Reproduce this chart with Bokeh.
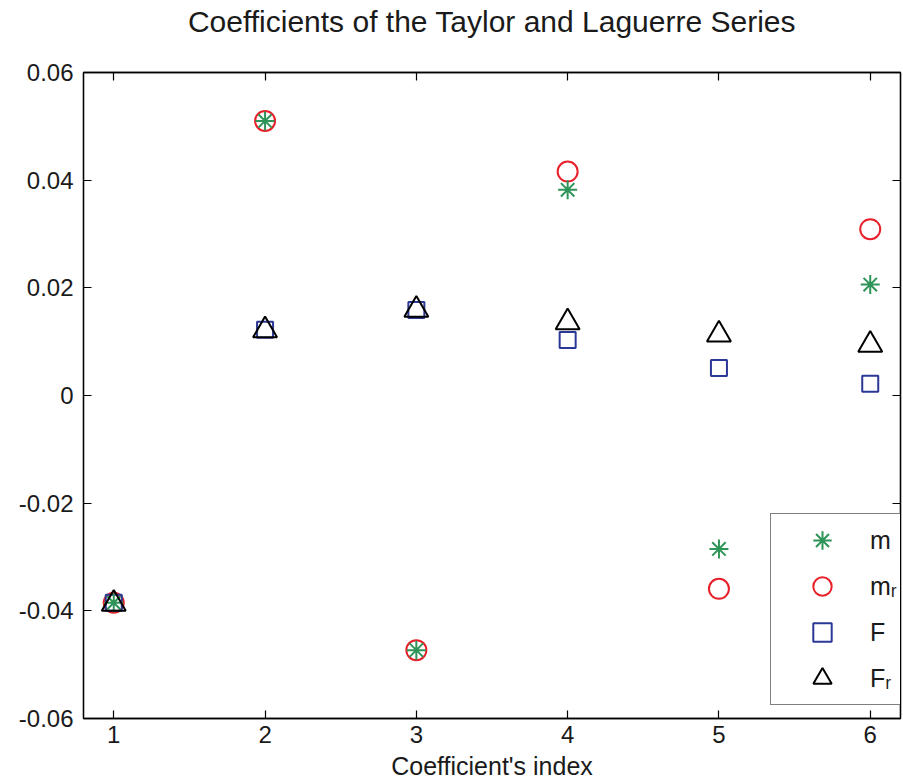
from bokeh.plotting import figure
from bokeh.models import Range1d, FixedTicker, LinearAxis, Legend, LegendItem
from bokeh.embed import file_html
from bokeh.resources import INLINE

# ---- data ----
index = [1, 2, 3, 4, 5, 6]
m_vals = [-0.0385, 0.0510, -0.0473, 0.0382, -0.0285, 0.0206]
mr_vals = [-0.0385, 0.0510, -0.0473, 0.0416, -0.0359, 0.0309]
F_vals = [-0.0385, 0.0122, 0.0159, 0.0103, 0.0051, 0.0022]
Fr_vals = [-0.0387, 0.0121, 0.0159, 0.0136, 0.0113, 0.0094]

x_ticks = [1, 2, 3, 4, 5, 6]
x_tick_labels = ["1", "2", "3", "4", "5", "6"]
y_ticks = [-0.06, -0.04, -0.02, 0, 0.02, 0.04, 0.06]
y_tick_labels = ["-0.06", "-0.04", "-0.02", "0", "0.02", "0.04", "0.06"]

legend_labels = ["m", "m\u1d63", "F", "F\u1d63"]
title_text = "Coefficients of the Taylor and Laguerre Series"
x_label = "Coefficient's index"

FONT = "Liberation Sans"
TXT = "#1a1a1a"

p = figure(
    width=903, height=782,
    x_range=Range1d(0.8, 6.2), y_range=Range1d(-0.06, 0.06),
    output_backend="svg", toolbar_location=None,
    min_border_left=83, min_border_right=3, min_border_top=72, min_border_bottom=10,
)
p.background_fill_color = "white"
p.border_fill_color = "white"
p.outline_line_color = "black"
p.outline_line_width = 1.3
p.grid.visible = False

xt = FixedTicker(ticks=x_ticks)
yt = FixedTicker(ticks=y_ticks)
x_over = dict(zip(x_ticks, x_tick_labels))
y_over = dict(zip(y_ticks, y_tick_labels))

for ax in p.xaxis:
    ax.ticker = xt
    ax.major_label_overrides = x_over
    ax.axis_label = x_label
    ax.axis_label_text_font = FONT
    ax.axis_label_text_font_size = "25px"
    ax.axis_label_text_font_style = "normal"
    ax.axis_label_text_color = TXT
    ax.axis_label_standoff = 6
    ax.major_label_standoff = 7
for ax in p.yaxis:
    ax.ticker = yt
    ax.major_label_overrides = y_over
    ax.major_label_standoff = 10

for ax in list(p.xaxis) + list(p.yaxis):
    ax.major_label_text_font = FONT
    ax.major_label_text_font_size = "24px"
    ax.major_label_text_color = TXT
    ax.axis_line_color = "black"
    ax.axis_line_width = 1.3
    ax.major_tick_line_color = "black"
    ax.major_tick_line_width = 1.2
    ax.major_tick_in = 8
    ax.major_tick_out = 0
    ax.minor_tick_line_color = None

# box-style ticks on top and right; the top axis carries the chart title
top_ax = LinearAxis(ticker=FixedTicker(ticks=x_ticks), major_label_text_font_size="1px",
                    major_label_text_color=None, major_label_standoff=0,
                    major_tick_in=8, major_tick_out=0,
                    minor_tick_line_color=None, axis_line_color="black",
                    axis_line_width=1.3, major_tick_line_width=1.2,
                    axis_label=title_text, axis_label_text_font=FONT,
                    axis_label_text_font_size="30px", axis_label_text_font_style="normal",
                    axis_label_text_color=TXT, axis_label_standoff=35)
right_ax = LinearAxis(ticker=FixedTicker(ticks=y_ticks), major_label_text_font_size="1px",
                      major_label_text_color=None, major_label_standoff=0,
                      major_tick_in=8, major_tick_out=0,
                      minor_tick_line_color=None, axis_line_color="black",
                      axis_line_width=1.3, major_tick_line_width=1.2)
p.add_layout(top_ax, "above")
p.add_layout(right_ax, "right")

GREEN = "#2f9457"
RED = "#e8202a"
BLUE = "#2b3896"

r_mr = p.scatter(index, mr_vals, marker="circle", size=20, fill_color=None,
                 line_color=RED, line_width=2)
r_F = p.scatter(index, F_vals, marker="square", size=16, fill_color=None,
                line_color=BLUE, line_width=2)
r_m = p.scatter(index, m_vals, marker="asterisk", size=19,
                line_color=GREEN, line_width=2)
r_Fr = p.scatter(index, Fr_vals, marker="triangle", size=24, fill_color=None,
                 line_color="black", line_width=2)

legend = Legend(
    items=[LegendItem(label=legend_labels[0], renderers=[r_m]),
           LegendItem(label=legend_labels[1], renderers=[r_mr]),
           LegendItem(label=legend_labels[2], renderers=[r_F]),
           LegendItem(label=legend_labels[3], renderers=[r_Fr])],
    location=(687, 13),
    glyph_width=96, glyph_height=46, spacing=0, padding=3,
    label_standoff=0, label_width=140,
    label_text_font=FONT, label_text_font_size="25px", label_text_color=TXT,
    border_line_color="black", border_line_width=1.3,
    background_fill_color="white", background_fill_alpha=1.0,
    margin=0,
)
p.add_layout(legend, "center")

open("out.html", "w").write(file_html(p, INLINE))
